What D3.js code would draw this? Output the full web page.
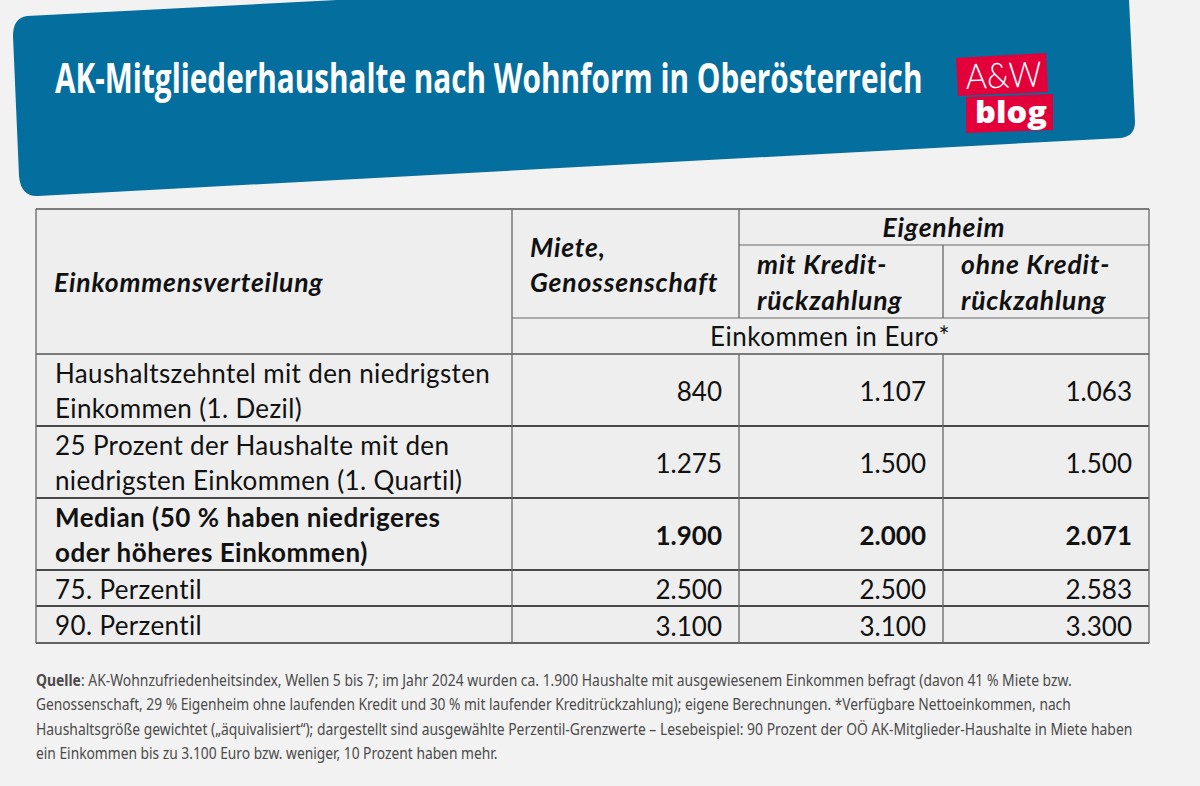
<!DOCTYPE html>
<meta charset="utf-8">
<script src="https://d3js.org/d3.v7.min.js"></script>
<style>
html, body { margin: 0; background: #f2f2f2; }
svg { display: block; }
</style>
<svg id="chart" width="1200" height="786"></svg>
<script>
// The data
const title = "AK-Mitgliederhaushalte nach Wohnform in Oberösterreich"
const rowLabels = [
  ["Haushaltszehntel mit den niedrigsten", "Einkommen (1. Dezil)"],
  ["25 Prozent der Haushalte mit den", "niedrigsten Einkommen (1. Quartil)"],
  ["Median (50 % haben niedrigeres", "oder höheres Einkommen)"],
  ["75. Perzentil"],
  ["90. Perzentil"]
]
const miete = [840, 1275, 1900, 2500, 3100]
const mitKredit = [1107, 1500, 2000, 2500, 3100]
const ohneKredit = [1063, 1500, 2071, 2583, 3300]
const boldRow = 2
const sourceLines = [
  ": AK-Wohnzufriedenheitsindex, Wellen 5 bis 7; im Jahr 2024 wurden ca. 1.900 Haushalte mit ausgewiesenem Einkommen befragt (davon 41 % Miete bzw.",
  "Genossenschaft, 29 % Eigenheim ohne laufenden Kredit und 30 % mit laufender Kreditrückzahlung); eigene Berechnungen. *Verfügbare Nettoeinkommen, nach",
  "Haushaltsgröße gewichtet („äquivalisiert“); dargestellt sind ausgewählte Perzentil-Grenzwerte – Lesebeispiel: 90 Prozent der OÖ AK-Mitglieder-Haushalte in Miete haben",
  "ein Einkommen bis zu 3.100 Euro bzw. weniger, 10 Prozent haben mehr."
]
const sourceWidths = [1036, 1036, 1097, 462]

const svg = d3.select("#chart")
const tableFont = "Lato, sans-serif"
const noteFont = "'Noto Sans', sans-serif"

// squeeze a text to a given width, the fonts here are wider than the original
function fitWidth(sel, x, y, width, extra) {
  sel.attr("transform", function() {
    const w = typeof width === "function" ? width.apply(this, arguments) : width
    const yy = typeof y === "function" ? y.apply(this, arguments) : y
    return `translate(${x},${yy}) ${extra || ""} scale(${w / this.getComputedTextLength()},1)`
  })
}

// Banner
svg.append("path")
  .attr("d", "M337,0 L1129,0 L1135,122 Q1135,136 1121,138 L38,196 Q21,197 19,176 L13,36 Q13,18 27,16 Z")
  .attr("fill", "#046e9e")

svg.append("text")
  .text(title)
  .attr("font-family", "'Open Sans', sans-serif")
  .attr("font-weight", 700).attr("font-size", 41)
  .attr("fill", "white")
  .call(fitWidth, 55, 93, 868)

// Logo
svg.append("polygon").attr("points", "956,58 1046,53 1048,92 958,96").attr("fill", "#e3003a")
svg.append("polygon").attr("points", "966,97 1053,94 1053,130 966,133").attr("fill", "#e3003a")
svg.append("text").text("A&W")
  .attr("font-family", "Lato, sans-serif").attr("font-weight", 300).attr("font-size", 35)
  .attr("fill", "white")
  .call(fitWidth, 966, 89, 76, "rotate(-2)")
svg.append("text").text("blog")
  .attr("font-family", "'Open Sans', sans-serif").attr("font-weight", 800).attr("font-size", 30)
  .attr("fill", "white")
  .call(fitWidth, 975, 123, 72)

// Table scales
const rowEdges = [354, 426, 498, 570, 606, 643]
const colEdges = [36, 512, 739, 943, 1149]
const rowIndex = d3.range(rowLabels.length)
const rowTop = d3.scaleOrdinal().domain(rowIndex).range(rowEdges.slice(0, -1))
const rowBottom = d3.scaleOrdinal().domain(rowIndex).range(rowEdges.slice(1))
const rowMid = i => (rowTop(i) + rowBottom(i)) / 2
const fmt = d3.formatLocale({ decimal: ",", thousands: ".", grouping: [3], currency: ["", ""] }).format(",d")

// Background
svg.append("rect")
  .attr("x", colEdges[0]).attr("y", 209)
  .attr("width", colEdges[4] - colEdges[0]).attr("height", 643 - 209)
  .attr("fill", "#eeeeee")

// Grid lines
const hLines = [
  [36, 1149, 209, "#555", 1.3], [739, 1149, 245, "#666", 1.2], [512, 1149, 318, "#666", 1.2], [36, 1149, 354, "#555", 1.3],
  [36, 1149, 426, "#111", 1.6], [36, 1149, 498, "#111", 1.6], [36, 1149, 570, "#111", 1.6], [36, 1149, 606, "#111", 1.6], [36, 1149, 643, "#333", 1.3]
]
const vLines = [
  [36, 209, 643], [512, 209, 643], [739, 209, 318], [739, 354, 643],
  [943, 245, 318], [943, 354, 643], [1149, 209, 643]
]
svg.append("g").selectAll("line").data(hLines).join("line")
  .attr("x1", d => d[0]).attr("x2", d => d[1])
  .attr("y1", d => d[2]).attr("y2", d => d[2])
  .attr("stroke", d => d[3]).attr("stroke-width", d => d[4])
svg.append("g").selectAll("line").data(vLines).join("line")
  .attr("x1", d => d[0]).attr("x2", d => d[0])
  .attr("y1", d => d[1]).attr("y2", d => d[2])
  .attr("stroke", "#666").attr("stroke-width", 1.3)

// Header cells
const headers = [
  ["Einkommensverteilung", 54, 292, "start", true],
  ["Miete,", 530, 257, "start", true],
  ["Genossenschaft", 530, 292, "start", true],
  ["Eigenheim", 944, 237, "middle", true],
  ["mit Kredit-", 757, 274, "start", true],
  ["rückzahlung", 757, 310, "start", true],
  ["ohne Kredit-", 961, 274, "start", true],
  ["rückzahlung", 961, 310, "start", true],
  ["Einkommen in Euro*", 830, 346, "middle", false]
]
svg.append("g").selectAll("text").data(headers).join("text")
  .text(d => d[0])
  .attr("x", d => d[1]).attr("y", d => d[2])
  .attr("text-anchor", d => d[3])
  .attr("font-family", tableFont).attr("font-size", d => d[4] ? 26.5 : 26)
  .attr("letter-spacing", d => d[4] ? 0.8 : 0.5)
  .attr("font-weight", d => d[4] ? 700 : 400)
  .attr("font-style", d => d[4] ? "italic" : "normal")
  .attr("fill", "#111")

// Row labels
const labelRows = svg.append("g").selectAll("g").data(rowLabels).join("g")
labelRows.selectAll("text").data((d, i) => d.map((t, j) => ({ t, i, j, n: d.length }))).join("text")
  .text(d => d.t)
  .attr("x", 55)
  .attr("y", d => rowMid(d.i) + 10.5 + (d.j - (d.n - 1) / 2) * 35)
  .attr("font-family", tableFont).attr("font-size", 26)
  .attr("letter-spacing", d => d.i === boldRow ? 0.5 : 0.36)
  .attr("font-weight", d => d.i === boldRow ? 700 : 400)
  .attr("fill", "#111")

// Values
const columns = [miete, mitKredit, ohneKredit]
columns.forEach((values, c) => {
  svg.append("g").selectAll("text").data(values).join("text")
    .text(d => fmt(d))
    .attr("x", colEdges[c + 2] - 17)
    .attr("y", (d, i) => rowMid(i) + 11)
    .attr("text-anchor", "end")
    .attr("font-family", tableFont).attr("font-size", 26)
    .attr("font-weight", (d, i) => i === boldRow ? 700 : 400)
    .attr("fill", "#111")
})

// Source note
const note = svg.append("g").selectAll("text").data(sourceLines).join("text")
  .attr("font-family", noteFont).attr("font-size", 15.5)
  .attr("fill", "#4a4a4a")
note.filter((d, i) => i === 0).append("tspan").text("Quelle").attr("font-weight", 700)
note.append("tspan").text(d => d)
note.call(fitWidth, 36, (d, i) => 686 + i * 24.3, (d, i) => sourceWidths[i])
</script>
